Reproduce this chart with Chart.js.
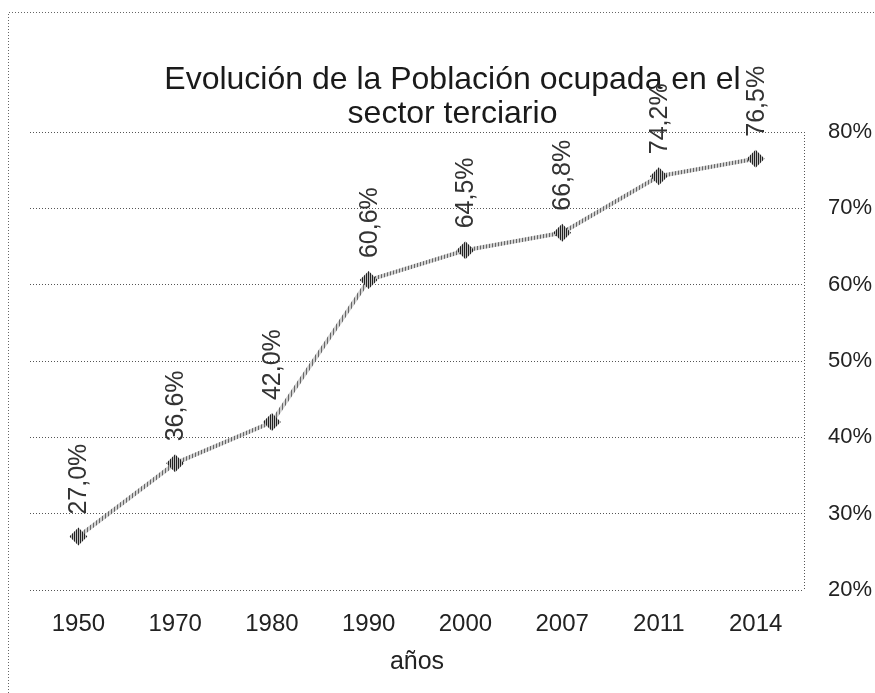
<!DOCTYPE html>
<html>
<head>
<meta charset="utf-8">
<script src="https://cdn.jsdelivr.net/npm/chart.js@4.4.0/dist/chart.umd.min.js"></script>
<style>
  html, body { margin: 0; padding: 0; background: #fff; }
  canvas { display: block; }
</style>
</head>
<body>
<canvas id="chart" width="875" height="693"></canvas>
<script>
const years = ['1950', '1970', '1980', '1990', '2000', '2007', '2011', '2014'];
const shares = [27.0, 36.6, 42.0, 60.6, 64.5, 66.8, 74.2, 76.5];
const titleLines = ['Evolución de la Población ocupada en el', 'sector terciario'];

const FONT = '"Liberation Sans", Arial, sans-serif';

// hatched texture like the old office chart
function stripes(dark, light, size) {
    let c = document.createElement('canvas');
    c.width = size; c.height = size;
    let g = c.getContext('2d');
    g.fillStyle = light;
    g.fillRect(0, 0, size, size);
    g.fillStyle = dark;
    g.fillRect(0, 0, 1, size);
    return g.createPattern(c, 'repeat');
}

const frame = {
    id: 'frame',
    beforeDraw(chart) {
        let ctx = chart.ctx;
        let a = chart.chartArea;
        ctx.save();
        ctx.strokeStyle = '#666';
        ctx.lineWidth = 1;
        ctx.setLineDash([1, 2]);
        ctx.beginPath();
        ctx.moveTo(8.5, 693);
        ctx.lineTo(8.5, 12.5);
        ctx.lineTo(875, 12.5);
        ctx.stroke();
        // dotted right edge of the plot
        ctx.strokeStyle = '#555';
        ctx.beginPath();
        ctx.moveTo(Math.round(a.right) + 0.5, a.top);
        ctx.lineTo(Math.round(a.right) + 0.5, a.bottom);
        ctx.stroke();
        ctx.restore();
    }
};

const valueLabels = {
    id: 'valueLabels',
    afterDatasetsDraw(chart) {
        let ctx = chart.ctx;
        let meta = chart.getDatasetMeta(0);
        ctx.save();
        ctx.fillStyle = '#333';
        ctx.font = '25px ' + FONT;
        ctx.textAlign = 'left';
        ctx.textBaseline = 'middle';
        meta.data.forEach((pt, i) => {
            ctx.save();
            ctx.translate(pt.x + 1, pt.y - 22);
            ctx.rotate(-Math.PI / 2);
            ctx.fillText(shares[i].toFixed(1).replace('.', ',') + '%', 0, 0);
            ctx.restore();
        });
        ctx.restore();
    }
};

new Chart(document.getElementById('chart'), {
    type: 'line',
    data: {
        labels: years,
        datasets: [{
            data: shares,
            borderColor: stripes('#666', '#cfcfcf', 3),
            borderWidth: 4,
            tension: 0,
            pointStyle: 'rectRot',
            pointRadius: 9,
            pointBackgroundColor: stripes('#222', '#bdbdbd', 2),
            pointBorderWidth: 0
        }]
    },
    options: {
        responsive: false,
        animation: false,
        layout: { padding: { left: 30, right: 0, top: 63, bottom: 16 } },
        plugins: {
            legend: { display: false },
            tooltip: { enabled: false },
            title: {
                display: true,
                text: titleLines,
                color: '#1a1a1a',
                font: { family: FONT, size: 32, weight: 'normal', lineHeight: 1.0625 },
                padding: { top: 0, bottom: 1 }
            }
        },
        scales: {
            x: {
                offset: true,
                grid: { display: false },
                border: { display: false },
                afterFit: s => { s.height = 87; },
                ticks: {
                    color: '#222',
                    padding: 12,
                    font: { family: FONT, size: 24 }
                },
                title: {
                    display: true,
                    text: 'años',
                    color: '#222',
                    font: { family: FONT, size: 25 },
                    padding: { top: 0, bottom: 0 }
                }
            },
            y: {
                position: 'right',
                min: 20,
                max: 80,
                afterFit: s => { s.width = 71; },
                ticks: {
                    stepSize: 10,
                    color: '#222',
                    padding: 24,
                    font: { family: FONT, size: 22 },
                    callback: v => v + '%'
                },
                grid: { color: '#555', drawTicks: false },
                border: { display: false, dash: [1, 2] }
            }
        }
    },
    plugins: [frame, valueLabels]
});
</script>
</body>
</html>
